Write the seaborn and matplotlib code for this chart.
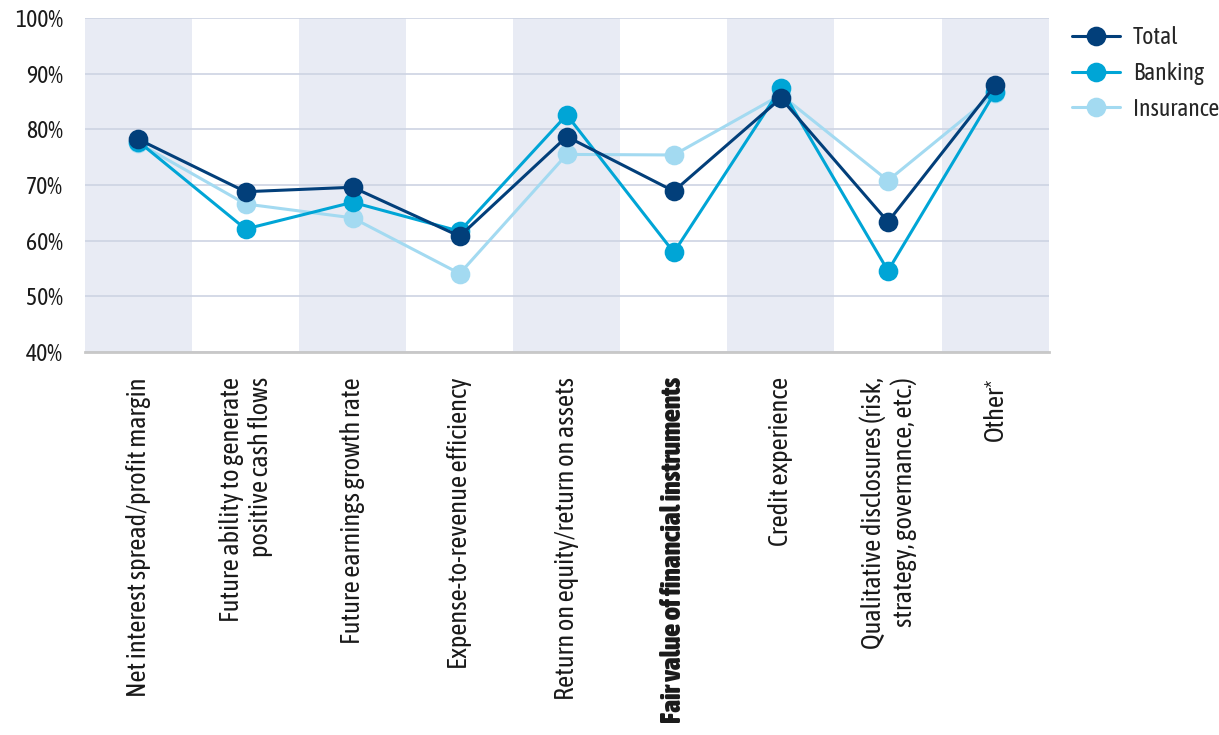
import matplotlib
matplotlib.use("Agg")
import matplotlib.pyplot as plt
import seaborn as sns
import pandas as pd
from matplotlib import font_manager
from matplotlib.ticker import FuncFormatter

categories = [
    "Net interest spread/profit margin",
    "Future ability to generate\npositive cash flows",
    "Future earnings growth rate",
    "Expense-to-revenue efficiency",
    "Return on equity/return on assets",
    "Fair value of financial instruments",
    "Credit experience",
    "Qualitative disclosures (risk,\nstrategy, governance, etc.)",
    "Other*",
]
total = [78.2, 68.8, 69.6, 60.8, 78.7, 68.9, 85.6, 63.4, 87.9]
banking = [77.8, 62.1, 66.9, 61.7, 82.6, 57.9, 87.4, 54.6, 86.7]
insurance = [77.5, 66.6, 64.1, 54.1, 75.5, 75.4, 86.2, 70.8, 86.5]
series_names = ["Total", "Banking", "Insurance"]
yticks = [40, 50, 60, 70, 80, 90, 100]

colors = {"Total": "#023f7a", "Banking": "#00a5d6", "Insurance": "#a3daf1"}

sns.set_theme(style="white")
fonts = font_manager.fontManager.ttflist


def wnum(w):
    if isinstance(w, (int, float)):
        return w
    return font_manager.weight_dict.get(str(w), 400)


cands = {}
for f in fonts:
    if "Narrow" in f.name or "Condensed" in f.name:
        cands.setdefault(f.name, []).append(f)

fam = None
bold_fp = None
for name, lst in cands.items():
    has_reg = any(wnum(x.weight) in (400, 500) and x.style == "normal" for x in lst)
    bolds = [x for x in lst if wnum(x.weight) >= 600 and x.style == "normal"]
    if has_reg and bolds:
        fam = name
        bold_fp = font_manager.FontProperties(fname=bolds[0].fname)
        break
if fam is None and cands:
    fam = list(cands.keys())[0]
    for name, lst in cands.items():
        bolds = [x for x in lst if wnum(x.weight) >= 600 and x.style == "normal"]
        if bolds:
            bold_fp = font_manager.FontProperties(fname=bolds[0].fname)
            break
narrow_ok = fam is not None
if fam is None:
    fam = "Liberation Sans"
plt.rcParams["font.family"] = [fam, "DejaVu Sans"]
fs_x = 19 if narrow_ok else 14.5
fs_y = 17 if narrow_ok else 14
fs_l = 17 if narrow_ok else 14

df = pd.DataFrame({
    "category": categories * 3,
    "value": total + banking + insurance,
    "series": ["Total"] * 9 + ["Banking"] * 9 + ["Insurance"] * 9,
})

fig = plt.figure(figsize=(12.19, 7.35), dpi=100)
ax = fig.add_axes([0.0697, 0.521, 0.7905, 0.4545])

for i in range(len(categories)):
    if i % 2 == 0:
        ax.axvspan(i - 0.5, i + 0.5, color="#e8ebf4", zorder=0, lw=0)

draw_order = ["Insurance", "Banking", "Total"]
sns.pointplot(data=df, x="category", y="value", hue="series", order=categories,
              hue_order=draw_order, palette=colors, markers="o", markersize=12.5,
              linewidth=2.2, ax=ax, errorbar=None)

ax.set_xlim(-0.5, len(categories) - 0.5)
ax.set_ylim(40, 100)
ax.set_yticks(yticks)
ax.yaxis.set_major_formatter(FuncFormatter(lambda v, p: f"{int(v)}%"))
ax.grid(axis="y", color="#cdd3e3", lw=1.2, zorder=1)
ax.set_axisbelow(True)
for s in ["left", "right", "top"]:
    ax.spines[s].set_visible(False)
ax.spines["bottom"].set_color("#c8c8c8")
ax.spines["bottom"].set_linewidth(2)
ax.set_xlabel("")
ax.set_ylabel("")
ax.tick_params(axis="y", length=0, labelsize=fs_y, labelcolor="#1a1a1a", pad=16)
ax.tick_params(axis="x", length=0, pad=18)
ax.set_xticks(range(len(categories)))
ax.set_xticklabels(categories, rotation=90, fontsize=fs_x, color="#1a1a1a",
                   va="top", ha="center", multialignment="right")
lbl = ax.get_xticklabels()[5]
if bold_fp is not None:
    bold_fp.set_size(fs_x + 1)
    lbl.set_fontproperties(bold_fp)
else:
    lbl.set_fontweight("bold")

handles, labels = ax.get_legend_handles_labels()
hmap = dict(zip(labels, handles))
ax.legend([hmap[n] for n in series_names], series_names, loc="upper left",
          bbox_to_anchor=(1.015, 1.005), frameon=False, fontsize=fs_l,
          handlelength=2.0, labelspacing=0.55, handletextpad=0.55,
          borderaxespad=0)

fig.savefig("out.png", dpi=100)
